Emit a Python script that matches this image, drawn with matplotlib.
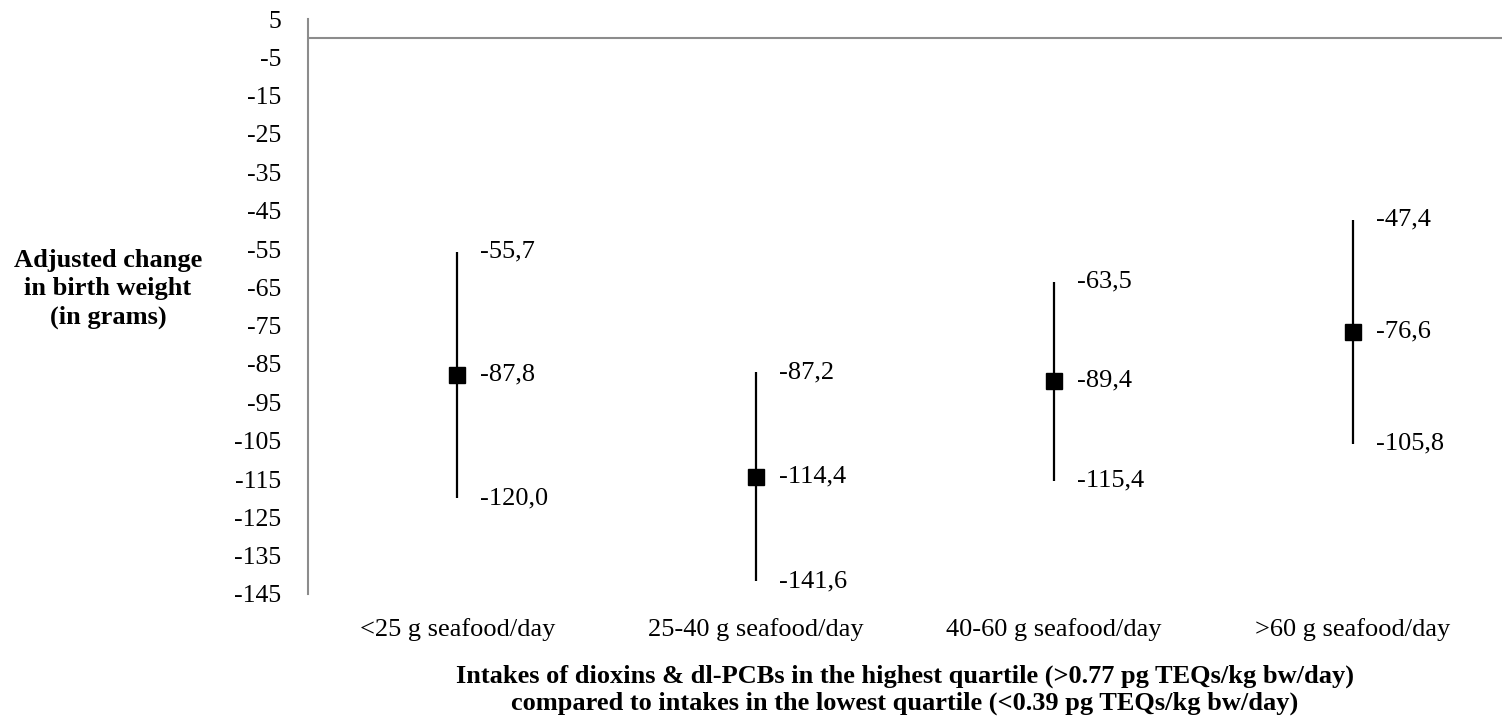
import matplotlib
matplotlib.use("Agg")
import matplotlib.pyplot as plt
import numpy as np

categories = ["<25 g seafood/day", "25-40 g seafood/day", "40-60 g seafood/day", ">60 g seafood/day"]
estimate = [-87.8, -114.4, -89.4, -76.6]
upper = [-55.7, -87.2, -63.5, -47.4]
lower = [-120.0, -141.6, -115.4, -105.8]
yticks = list(range(5, -146, -10))

plt.rcParams['font.family'] = ['Liberation Serif', 'DejaVu Serif']

fig = plt.figure(figsize=(15.08, 7.19), dpi=100)
W, H = 1508, 719
ax = fig.add_axes([308 / W, 1 - 594 / H, (1502 - 308) / W, (594 - 19) / H])

x = np.arange(len(categories))
est = np.array(estimate)
up = np.array(upper)
lo = np.array(lower)
ax.vlines(x, lo, up, color='black', lw=1.6, zorder=2)
ax.plot(x, est, ls='none', marker='s', ms=11, color='black', zorder=3)

def fmt(v):
    return f"{v:.1f}".replace('.', ',')

for xi, e, u, l in zip(x, est, up, lo):
    for v in (e, u, l):
        ax.annotate(fmt(v), (xi, v), xytext=(16.5, 0), textcoords='offset points',
                    ha='left', va='center', fontsize=19)

ax.axhline(0, color='#8c8c8c', lw=1.5, zorder=1)
ax.set_xlim(-0.5, 3.5)
ax.set_ylim(-145, 5)
ax.set_yticks(yticks)
ax.set_yticklabels([str(t) for t in yticks], fontsize=18.5)
ax.set_xticks(x)
ax.set_xticklabels(categories, fontsize=19)
ax.tick_params(axis='both', length=0)
ax.tick_params(axis='y', pad=19)
ax.tick_params(axis='x', pad=17)
for s in ['top', 'right', 'bottom']:
    ax.spines[s].set_visible(False)
ax.spines['left'].set_color('#8c8c8c')
ax.spines['left'].set_linewidth(1.5)

fig.text(108 / W, 1 - 289 / H, "Adjusted change\nin birth weight\n(in grams)",
         ha='center', va='center', fontsize=19, fontweight='bold', linespacing=1.3)
fig.text(905 / W, 1 - 690 / H,
         "Intakes of dioxins & dl-PCBs in the highest quartile (>0.77 pg TEQs/kg bw/day)\ncompared to intakes in the lowest quartile (<0.39 pg TEQs/kg bw/day)",
         ha='center', va='center', fontsize=19, fontweight='bold', linespacing=1.18)

fig.savefig("out.png", dpi=100)
